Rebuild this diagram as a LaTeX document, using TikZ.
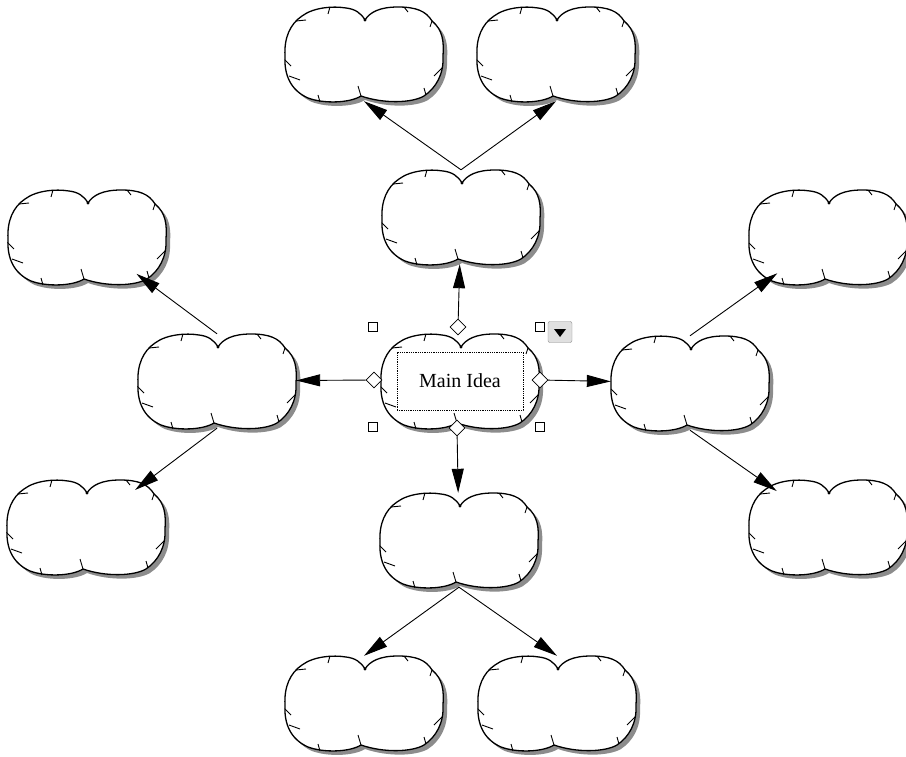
\documentclass[tikz,border=0pt]{standalone}
\usepackage{fontspec}
\setmainfont{Liberation Serif}
\usetikzlibrary{arrows.meta,shapes.geometric}

% outline of one idea cloud, centred on (0,0), y grows downwards
\newcommand{\bubbleoutline}{(1,-34) .. controls (6,-42) and (16,-47) .. (34,-47)
  .. controls (52,-47) and (62,-43) .. (68,-33)
  .. controls (79,-24) and (80,-12) .. (79,2)
  .. controls (80,20) and (72,34) .. (60,42)
  .. controls (48,49) and (20,50) .. (-3,42)
  .. controls (-14,49) and (-40,50) .. (-56,44)
  .. controls (-74,36) and (-80,20) .. (-79,2)
  .. controls (-80,-16) and (-74,-30) .. (-62,-38)
  .. controls (-50,-47) and (-30,-48) .. (-18,-46)
  .. controls (-9,-45) and (-3,-41) .. (1,-34) -- cycle}

\tikzset{
  pics/bubble/.style={code={
    \fill[black!45, shift={(4,4)}] \bubbleoutline;
    \draw[line width=1.3pt, fill=white] \bubbleoutline;
    \fill (1,-34) circle (1.6);
    \draw[line width=0.9pt] (-34,-47) -- (-36,-40) (-68,-33) -- (-58,-34)
      (-79,6) -- (-73,12) (-75,22) -- (-64,26) (-44,48) -- (-46,41)
      (-3,42) -- (-6,32) (78,14) -- (70,22) (62,41) -- (60,34)
      (40,-47) -- (44,-42) (68,-33) -- (66,-27);
  }}
}

\begin{document}
\begin{tikzpicture}[
  x=1pt, y=-1pt,
  idea/.style={ellipse, minimum width=158pt, minimum height=94pt, inner sep=0pt},
  textbox/.style={draw, densely dotted, line width=0.8pt, minimum width=126pt, minimum height=58pt, inner sep=0pt, font=\fontsize{20}{24}\selectfont},
  handle/.style={diamond, draw, fill=white, minimum size=16pt, inner sep=0pt, line width=0.8pt},
  sizer/.style={rectangle, draw, fill=white, minimum size=9pt, inner sep=0pt, line width=1pt},
  menu/.style={draw=black!45, fill=black!12, rounded corners=2pt, minimum width=24pt, minimum height=21pt, inner sep=0pt},
  arr/.style={-{Triangle[length=24pt, width=12pt]}, line width=0.9pt}
]
\path[use as bounding box] (0,0) rectangle (906,757);

% idea clouds
\node[idea] (main) at (460,381) {};
\node[idea] (up) at (461,217) {};
\node[idea] (upl) at (364,54) {};
\node[idea] (upr) at (556,54) {};
\node[idea] (lft) at (217,381) {};
\node[idea] (lftup) at (87,237) {};
\node[idea] (lftdn) at (86,527) {};
\node[idea] (rgt) at (690,383) {};
\node[idea] (rgtup) at (828,237) {};
\node[idea] (rgtdn) at (828,527) {};
\node[idea] (down) at (459,540) {};
\node[idea] (downl) at (364,703) {};
\node[idea] (downr) at (557,703) {};

\foreach \n in {main,up,upl,upr,lft,lftup,lftdn,rgt,rgtup,rgtdn,down,downl,downr}
  \pic at (\n) {bubble};

\node[textbox] (maintext) at (main) {Main Idea};

% handles of the selected idea
\node[handle] (hn) at (458,327) {};
\node[handle] (hw) at (374,380) {};
\node[handle] (he) at (540,380) {};
\node[handle] (hs) at (457,428) {};

\draw[arr] (hn) -- (up);
\draw[arr] (hw) -- (lft);
\draw[arr] (he) -- (rgt);
\draw[arr] (hs) -- (down);

\draw[arr] (up.north) -- (upl.south);
\draw[arr] (up.north) -- (upr.south);
\draw[arr] (lft.north) -- (lftup);
\draw[arr] (lft.south) -- (lftdn);
\draw[arr] (rgt.north) -- (rgtup);
\draw[arr] (rgt.south) -- (rgtdn);
\draw[arr] (down.south) -- (downl.north);
\draw[arr] (down.south) -- (downr.north);

\node[sizer] (sq1) at (373,327) {};
\node[sizer] (sq2) at (540,327) {};
\node[sizer] (sq3) at (373,427) {};
\node[sizer] (sq4) at (540,427) {};

\node[menu] (drop) at (560,332) {};
\fill (drop.center) +(-6,-3) -- +(6,-3) -- +(0,5) -- cycle;
\end{tikzpicture}
\end{document}
